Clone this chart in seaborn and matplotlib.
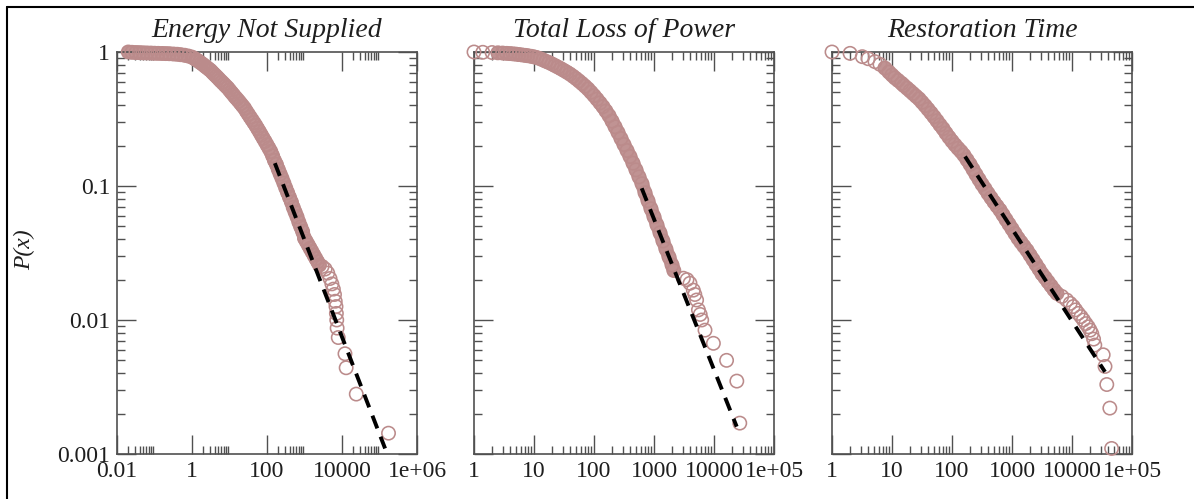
import matplotlib
matplotlib.use("Agg")
import matplotlib.pyplot as plt
from matplotlib.lines import Line2D
from matplotlib.ticker import FixedLocator, NullFormatter
import numpy as np
import pandas as pd
import seaborn as sns

# ---------------- data ----------------
titles = ["Energy Not Supplied", "Total Loss of Power", "Restoration Time"]

ens_x = [0.02, 0.025, 0.032, 0.04, 0.05, 0.063, 0.08, 0.1, 0.125, 0.16, 0.2, 0.25, 0.32, 0.4, 0.5, 0.63, 0.8, 1.0,
         1.12, 1.26, 1.41, 1.58, 1.78, 2.0, 2.24, 2.51, 2.82, 3.16, 3.55, 3.98, 4.47, 5.01, 5.62, 6.31, 7.08, 7.94, 8.91,
         10, 11.2, 12.6, 14.1, 15.8, 17.8, 20, 22.4, 25.1, 28.2, 31.6, 35.5, 39.8, 44.7, 50.1, 56.2, 63.1, 70.8, 79.4, 89.1,
         100, 112, 126, 141, 158, 178, 200, 224, 251, 282, 316, 355, 398, 447, 501, 562, 631, 708, 794, 891,
         1000, 1120, 1260, 1410, 1580, 1780, 2000, 2240, 2510,
         2950, 3550, 4170, 4790, 5370, 5890, 6310, 6610, 6920, 7080, 7240, 7410, 7940, 12000, 12900, 24000, 174000]
ens_p = [1.0, 0.995, 0.991, 0.989, 0.986, 0.984, 0.982, 0.979, 0.977, 0.975, 0.973, 0.971, 0.966, 0.962, 0.955, 0.946, 0.933, 0.916,
         0.899, 0.881, 0.863, 0.843, 0.824, 0.804, 0.783, 0.764, 0.745, 0.726, 0.701, 0.679, 0.658, 0.637, 0.615, 0.596, 0.577, 0.558, 0.541,
         0.520, 0.500, 0.481, 0.462, 0.446, 0.429, 0.412, 0.396, 0.381, 0.361, 0.344, 0.327, 0.312, 0.297, 0.283, 0.268, 0.254, 0.240, 0.227, 0.215,
         0.203, 0.192, 0.181, 0.168, 0.155, 0.145, 0.133, 0.123, 0.114, 0.105, 0.0966, 0.0891, 0.0822, 0.0759, 0.0692, 0.0638, 0.0589, 0.0537, 0.0495, 0.0457,
         0.0407, 0.0385, 0.0363, 0.0343, 0.0324, 0.0305, 0.0288, 0.0272, 0.0257,
         0.0251, 0.0240, 0.0224, 0.0204, 0.0186, 0.0170, 0.0155, 0.0138, 0.0126, 0.0112, 0.0100, 0.0087, 0.0074, 0.0056, 0.0044, 0.0028, 0.00143]
ens_fit_x = [162, 141000]
ens_fit_p = [0.148, 0.0011]

tlp_x = [1.0, 1.4, 2.0, 2.5, 3.0, 3.5, 4.0, 4.5, 5.0, 5.6, 6.3, 7.1, 7.9, 8.9, 10,
         11.2, 12.6, 14.1, 15.8, 17.8, 20, 22.4, 25.1, 28.2, 31.6, 35.5, 39.8, 44.7, 50.1, 56.2, 63.1, 70.8, 79.4, 89.1,
         100, 112, 126, 141, 158, 178, 200, 224, 251, 282, 316, 355, 398, 447, 501, 562, 631, 708, 794, 891,
         1000, 1120, 1260, 1410, 1580, 1780, 2000, 2140,
         3090, 3550, 3980, 4520, 4790, 5130, 5500, 5890, 6240, 7080, 9770, 16200, 24000, 26900]
tlp_p = [1.0, 0.995, 0.991, 0.986, 0.982, 0.977, 0.973, 0.968, 0.964, 0.957, 0.951, 0.944, 0.938, 0.929, 0.920,
         0.908, 0.891, 0.873, 0.853, 0.834, 0.813, 0.792, 0.771, 0.750, 0.728, 0.706, 0.684, 0.659, 0.634, 0.608, 0.582, 0.556, 0.530, 0.501,
         0.473, 0.445, 0.417, 0.391, 0.363, 0.335, 0.305, 0.277, 0.251, 0.226, 0.204, 0.184, 0.166, 0.148, 0.132, 0.117, 0.104, 0.0891, 0.0776, 0.0676,
         0.0589, 0.0513, 0.0447, 0.0389, 0.0339, 0.0295, 0.0257, 0.0234,
         0.0205, 0.0200, 0.0188, 0.0167, 0.0155, 0.0141, 0.0119, 0.0110, 0.0100, 0.0084, 0.0067, 0.0050, 0.0035, 0.0017]
tlp_fit_x = [624, 23900]
tlp_fit_p = [0.0962, 0.0016]

rt_x = [1, 2, 3.2, 4, 5.2, 6.3, 7.6, 8.9, 10, 11.2, 12.6, 14.5, 15.8, 17.8, 20, 22.4, 25.1, 28.2, 31.6, 35.5, 39.8, 44.7, 50.1, 56.2, 63.1, 70.8, 79.4, 89.1,
        100, 112, 126, 141, 158, 178, 200, 224, 251, 282, 316, 355, 398, 447, 501, 562, 631, 708, 794, 891,
        1000, 1120, 1260, 1410, 1580, 1780, 2000, 2240, 2510, 2820, 3160, 3550, 3980, 4470, 5010, 5620,
        6760, 8130, 9330, 10500, 11500, 12700, 14100, 15500, 17000, 18600, 20000, 21400, 22900, 24000, 33100, 35500, 38000, 42700, 45700]
rt_p = [1.0, 0.977, 0.923, 0.891, 0.847, 0.809, 0.759, 0.708, 0.673, 0.641, 0.614, 0.583, 0.562, 0.537, 0.513, 0.490, 0.468, 0.447, 0.422, 0.398, 0.374, 0.351, 0.329, 0.307, 0.286, 0.268, 0.248, 0.231,
        0.216, 0.203, 0.191, 0.181, 0.170, 0.157, 0.145, 0.133, 0.122, 0.112, 0.103, 0.0955, 0.0881, 0.0817, 0.0759, 0.0708, 0.0661, 0.0610, 0.0562, 0.0519,
        0.0479, 0.0442, 0.0407, 0.0380, 0.0355, 0.0331, 0.0305, 0.0282, 0.0260, 0.0240, 0.0221, 0.0207, 0.0193, 0.0180, 0.0168, 0.0158,
        0.0150, 0.0141, 0.0133, 0.0126, 0.0119, 0.0112, 0.0106, 0.0100, 0.0094, 0.0089, 0.0084, 0.0079, 0.0072, 0.0065, 0.0055, 0.0045, 0.0033, 0.0022, 0.0011]
rt_fit_x = [165, 35500]
rt_fit_p = [0.166, 0.0041]

# the stretch of each series where the circles overlap into a solid ribbon
# (first x value, last x value)
ens_dense = (0.02, 2510)
tlp_dense = (2.5, 2140)
rt_dense = (7.6, 5620)

x_ticks_a = [0.01, 1, 100, 10000, 1e6]
x_labels_a = ["0.01", "1", "100", "10000", "1e+06"]
x_ticks_b = [1, 10, 100, 1000, 10000, 1e5]
x_labels_b = ["1", "10", "100", "1000", "10000", "1e+05"]
y_ticks = [0.001, 0.01, 0.1, 1]
y_labels = ["0.001", "0.01", "0.1", "1"]

# ---------------- style ----------------
sns.set_style("ticks")
plt.rcParams["font.family"] = ["Liberation Serif", "DejaVu Serif"]

MARK = "#bb8b8b"
RIBBON = "#c09393"
AXC = "#505050"
TXT = "#1e1e1e"

W, H = 1194, 499
fig = plt.figure(figsize=(W / 100, H / 100), dpi=100)

panels = [
    (ens_x, ens_p, ens_fit_x, ens_fit_p, ens_dense, (0.01, 1e6), x_ticks_a, x_labels_a, [-2, 0, 2, 4]),
    (tlp_x, tlp_p, tlp_fit_x, tlp_fit_p, tlp_dense, (1, 1e5), x_ticks_b, x_labels_b, [0, 1, 2, 3, 4]),
    (rt_x, rt_p, rt_fit_x, rt_fit_p, rt_dense, (1, 1e5), x_ticks_b, x_labels_b, [0, 1, 2, 3, 4]),
]
lefts = [117, 474, 832]

for i, (xs, ps, fx, fp, dense, xlim, xt, xl, minor_dec) in enumerate(panels):
    ax = fig.add_axes([lefts[i] / W, 45 / H, 300 / W, 402 / H])
    ax.set_xscale("log")
    ax.set_yscale("log")
    df = pd.DataFrame({"x": xs, "P": ps})
    band = df[(df["x"] >= dense[0]) & (df["x"] <= dense[1])]
    sns.lineplot(data=band, x="x", y="P", ax=ax, color=RIBBON, linewidth=10.0,
                 solid_capstyle="round", solid_joinstyle="round",
                 zorder=2, legend=False, clip_on=False)
    sns.scatterplot(data=df, x="x", y="P", ax=ax, marker="o", s=92,
                    color=MARK, facecolor="none", edgecolor=MARK,
                    linewidth=1.15, clip_on=False, zorder=3, legend=False)
    fit = pd.DataFrame({"x": fx, "P": fp})
    sns.lineplot(data=fit, x="x", y="P", ax=ax, color="black", linewidth=2.8,
                 zorder=4, legend=False)
    ax.lines[-1].set_dashes([3.5, 2.3])

    ax.set_xlim(*xlim)
    ax.set_ylim(0.001, 1)
    ax.xaxis.set_major_locator(FixedLocator(xt))
    ax.set_xticklabels(xl)
    ax.xaxis.set_minor_locator(FixedLocator([k * 10.0 ** e for e in minor_dec for k in range(2, 10)]))
    ax.xaxis.set_minor_formatter(NullFormatter())
    ax.yaxis.set_major_locator(FixedLocator(y_ticks))
    ax.yaxis.set_minor_locator(FixedLocator([k * 10.0 ** e for e in (-3, -2, -1) for k in range(2, 10)]))
    ax.yaxis.set_minor_formatter(NullFormatter())
    if i == 0:
        ax.set_yticklabels(y_labels)
    else:
        ax.set_yticklabels([])
    ax.set_xlabel("")
    ax.set_ylabel("")
    ax.tick_params(which="both", direction="in", top=True, right=True,
                   color=AXC, width=1.0, labelsize=17, labelcolor=TXT, pad=5)
    ax.tick_params(which="major", length=13.5)
    ax.tick_params(which="minor", length=6)
    for sp in ax.spines.values():
        sp.set_color(AXC)
        sp.set_linewidth(1.2)
    ax.set_title(titles[i], fontsize=20, fontstyle="italic", color=TXT, pad=11)

fig.text(25 / W, 1 - 250 / H, "P(x)", rotation=90, fontsize=17, fontstyle="italic",
         ha="center", va="center", color=TXT)

# outer frame of the original screenshot
fig.add_artist(Line2D([7 / W, 7 / W], [0, 1 - 7 / H], transform=fig.transFigure, color="black", lw=1.5))
fig.add_artist(Line2D([7 / W, 1], [1 - 7 / H, 1 - 7 / H], transform=fig.transFigure, color="black", lw=1.5))

fig.savefig("out.png", dpi=100)
